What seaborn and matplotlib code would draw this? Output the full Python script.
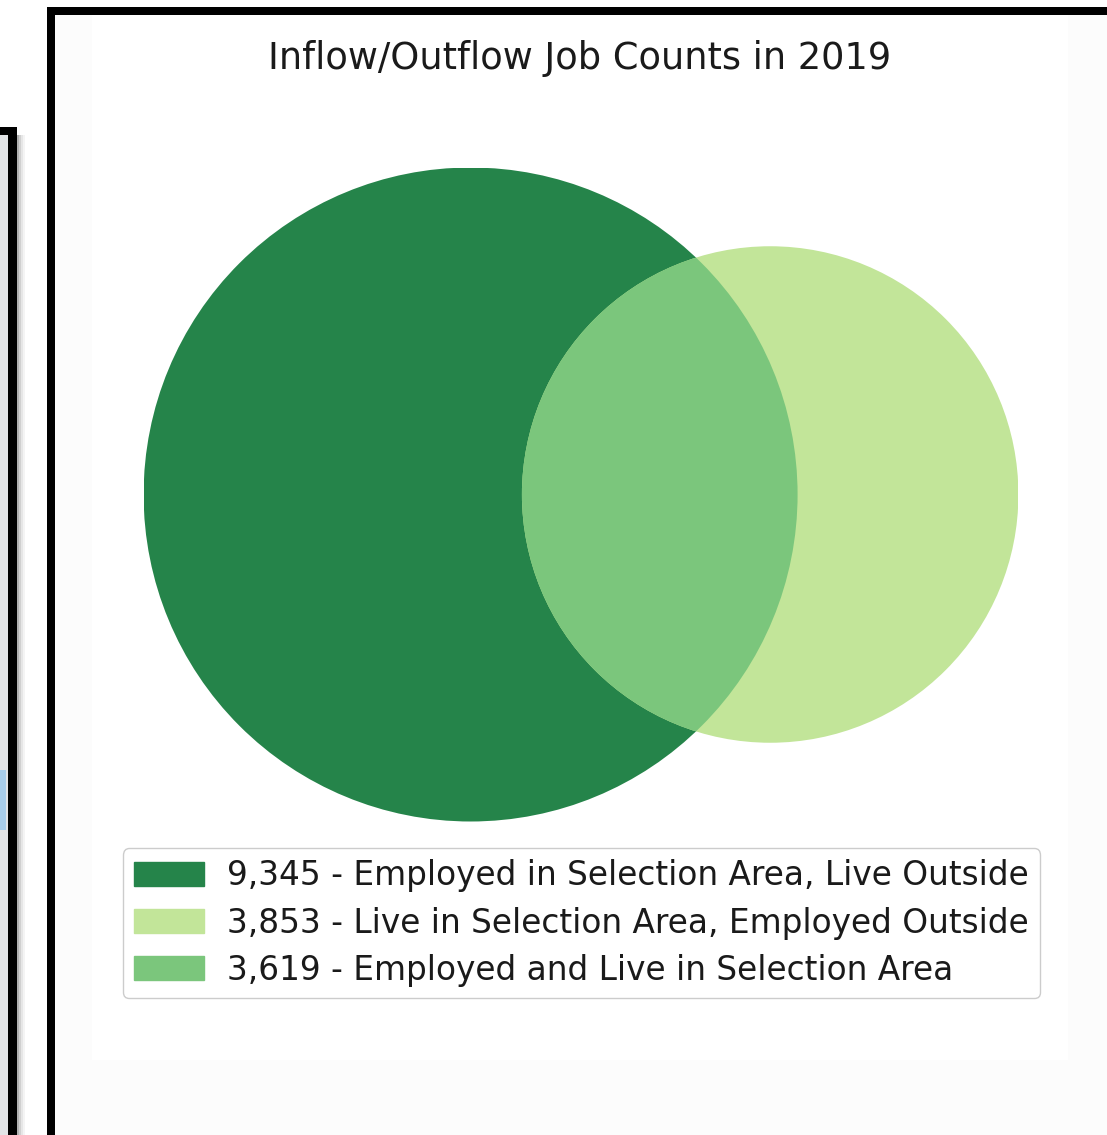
import numpy as np
import seaborn as sns
import matplotlib
matplotlib.use("Agg")
import matplotlib.pyplot as plt
from matplotlib.patches import Circle, Rectangle, Patch

# LEHD-style inflow/outflow counts
region_names = ["Employed in Selection Area, Live Outside",
                "Live in Selection Area, Employed Outside",
                "Employed and Live in Selection Area"]
region_counts = [9345, 3853, 3619]
region_colors = ["#25844a", "#c2e599", "#7bc67c"]
title = "Inflow/Outflow Job Counts in 2019"


def lens_area(r1, r2, d):
    a1 = np.arccos((d**2 + r1**2 - r2**2) / (2 * d * r1))
    a2 = np.arccos((d**2 + r2**2 - r1**2) / (2 * d * r2))
    k = (-d + r1 + r2) * (d + r1 - r2) * (d - r1 + r2) * (d + r1 + r2)
    return r1**2 * a1 + r2**2 * a2 - 0.5 * np.sqrt(k)


def solve_distance(r1, r2, target):
    lo, hi = abs(r1 - r2) + 1e-9, r1 + r2 - 1e-9
    for _ in range(200):
        mid = 0.5 * (lo + hi)
        if lens_area(r1, r2, mid) > target:
            lo = mid
        else:
            hi = mid
    return 0.5 * (lo + hi)


def main():
    sns.set_theme(style="white")
    plt.rcParams["font.family"] = ["DejaVu Sans"]
    plt.rcParams["text.color"] = "#1a1a1a"
    pal = sns.color_palette(region_colors)

    W, H = 1107, 1135
    fig = plt.figure(figsize=(W / 100, H / 100), dpi=100)
    fig.patch.set_facecolor("white")

    # screenshot frame around the chart
    bg = fig.add_axes([0, 0, 1, 1], zorder=0)
    bg.set_xlim(0, W)
    bg.set_ylim(H, 0)
    bg.axis("off")
    bg.add_patch(Rectangle((0, 135), 9, H, color="#e2e4e6", lw=0))
    bg.add_patch(Rectangle((0, 770), 6, 60, color="#a8cdea", lw=0))
    for i, c in enumerate(["#b0b0b0", "#d0d0d0", "#e6e6e6", "#f4f4f4"]):
        bg.add_patch(Rectangle((17 + 2 * i, 135), 2, H, color=c, lw=0))
    bg.add_patch(Rectangle((8, 127), 9, H, color="black", lw=0))
    bg.add_patch(Rectangle((0, 127), 17, 8, color="black", lw=0))
    bg.add_patch(Rectangle((55, 15), W, H, color="#fcfcfc", lw=0))
    bg.add_patch(Rectangle((92, 15), 976, 1045, color="white", lw=0))
    bg.add_patch(Rectangle((47, 7), 8, H, color="black", lw=0))
    bg.add_patch(Rectangle((47, 7), W, 8, color="black", lw=0))

    # venn geometry from the counts
    set_a = region_counts[0] + region_counts[2]
    set_b = region_counts[1] + region_counts[2]
    r1 = np.sqrt(set_a / np.pi)
    r2 = np.sqrt(set_b / np.pi)
    d = solve_distance(r1, r2, region_counts[2])

    # big circle: 327 px radius, diagram centred near x=581 px
    s = 327.0 / r1
    width = s * (r1 + d + r2)
    left = 581.0 - width / 2
    top = 494.5 - s * r1
    height = 2 * s * r1
    ax = fig.add_axes([left / W, 1 - (top + height) / H, width / W, height / H], zorder=1)
    ax.set_xlim(-r1, d + r2)
    ax.set_ylim(-r1, r1)
    ax.set_aspect("equal")
    ax.axis("off")

    big = Circle((0, 0), r1, color=pal[0], lw=0)
    ax.add_patch(big)
    ax.add_patch(Circle((d, 0), r2, color=pal[1], lw=0))
    mid = Circle((d, 0), r2, color=pal[2], lw=0)
    ax.add_patch(mid)
    mid.set_clip_path(big)

    fig.text(580 / W, 1 - 69 / H, title, fontsize=26.5, ha="center", va="baseline")

    handles = [Patch(color=pal[i]) for i in range(3)]
    labels = [f"{n:,} - {t}" for n, t in zip(region_counts, region_names)]
    fig.legend(handles, labels, loc="upper center", bbox_to_anchor=(581.5 / W, 1 - 848 / H),
               borderaxespad=0, fontsize=23.6, labelspacing=0.43, handletextpad=0.7,
               handlelength=2.13, handleheight=0.76,
               borderpad=0.35, frameon=True, edgecolor="#cccccc", framealpha=1, fancybox=True)

    fig.savefig("out.png", dpi=100)


if __name__ == "__main__":
    main()
